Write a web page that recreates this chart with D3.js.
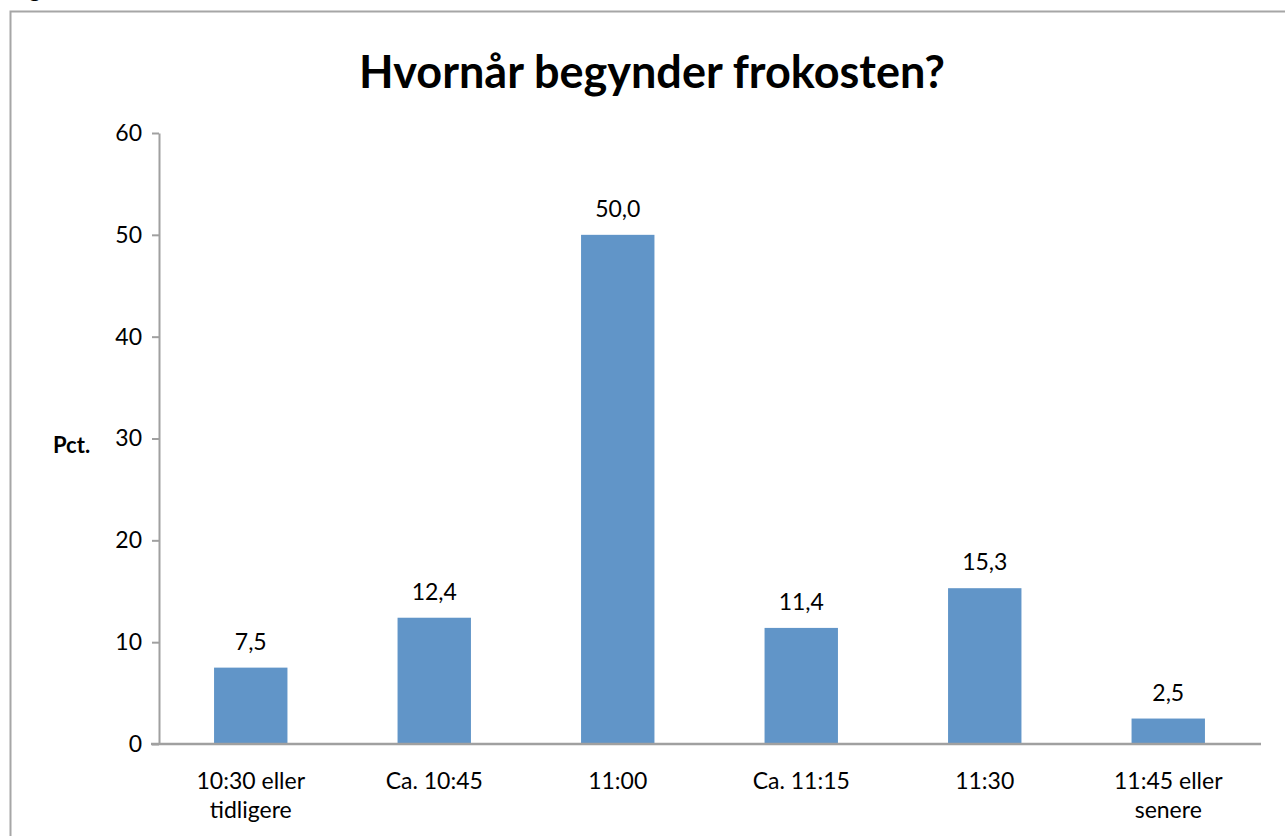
<!DOCTYPE html>
<html>
<head>
<meta charset="utf-8">
<script src="https://cdn.jsdelivr.net/npm/d3@7"></script>
<style>
  body { margin: 0; background: #fff; }
  svg text { font-family: Lato, "Open Sans", sans-serif; fill: #000; }
</style>
</head>
<body>
<div id="chart"></div>
<script>
var categories = [["10:30 eller", "tidligere"], ["Ca. 10:45"], ["11:00"], ["Ca. 11:15"], ["11:30"], ["11:45 eller", "senere"]];
var values = [7.5, 12.4, 50.0, 11.4, 15.3, 2.5];
var yTicks = [0, 10, 20, 30, 40, 50, 60];

var width = 1285, height = 836;
var plotLeft = 159, plotRight = 1260, plotTop = 133, plotBottom = 744;

var svg = d3.select("#chart")
    .append("svg")
    .attr("width", width)
    .attr("height", height);

// outer frame
svg.append("rect")
    .attr("x", 10.5).attr("y", 11.5)
    .attr("width", 1290).attr("height", 840)
    .attr("fill", "none")
    .attr("stroke", "#a6a6a6")
    .attr("stroke-width", 2);

// cut-off caption glyph above the frame
svg.append("text")
    .attr("x", 29).attr("y", -3)
    .attr("font-size", 22)
    .text("g");

svg.append("text")
    .attr("x", 652).attr("y", 88)
    .attr("text-anchor", "middle")
    .attr("font-size", 45)
    .attr("font-weight", "bold")
    .text("Hvornår begynder frokosten?");

var x = d3.scaleBand()
    .range([plotLeft, plotRight])
    .paddingInner(0.6)
    .paddingOuter(0.3)
    .domain(d3.range(values.length));

var y = d3.scaleLinear()
    .range([plotBottom, plotTop])
    .domain([0, 60]);

// y axis
var yAxis = svg.append("g")
    .attr("transform", "translate(" + plotLeft + ",0)")
    .call(d3.axisLeft(y).tickValues(yTicks).tickSize(7).tickPadding(10).tickSizeOuter(0));
yAxis.select(".domain").attr("stroke", "#a0a0a0").attr("stroke-width", 2);
yAxis.selectAll(".tick line").attr("stroke", "#a0a0a0").attr("stroke-width", 2);
yAxis.selectAll(".tick text")
    .attr("font-size", 23)
    .attr("font-family", "Lato, 'Open Sans', sans-serif")
    .attr("fill", "#000");

svg.append("text")
    .attr("x", 53).attr("y", 453)
    .attr("font-size", 22)
    .attr("font-weight", "bold")
    .text("Pct.");

// bars
svg.selectAll(".bar")
    .data(values)
    .enter().append("rect")
    .attr("class", "bar")
    .attr("fill", "#6195c8")
    .attr("x", function(d, i) { return x(i); })
    .attr("y", function(d) { return y(d); })
    .attr("width", x.bandwidth())
    .attr("height", function(d) { return plotBottom - y(d); });

svg.selectAll(".barvalues")
    .data(values)
    .enter().append("text")
    .attr("class", "barvalues")
    .attr("x", function(d, i) { return x(i) + x.bandwidth() / 2; })
    .attr("y", function(d) { return y(d) - 18; })
    .attr("text-anchor", "middle")
    .attr("font-size", 23)
    .text(function(d) { return d.toFixed(1).replace(".", ","); });

// x axis line
svg.append("line")
    .attr("x1", 151).attr("x2", 1261)
    .attr("y1", plotBottom).attr("y2", plotBottom)
    .attr("stroke", "#a0a0a0")
    .attr("stroke-width", 2.5);

// category labels
var labels = svg.selectAll(".xlabel")
    .data(categories)
    .enter().append("text")
    .attr("class", "xlabel")
    .attr("text-anchor", "middle")
    .attr("font-size", 23)
    .attr("x", function(d, i) { return x(i) + x.bandwidth() / 2; })
    .attr("y", 789);
labels.selectAll("tspan")
    .data(function(d) { return d; })
    .enter().append("tspan")
    .attr("x", function() { return d3.select(this.parentNode).attr("x"); })
    .attr("dy", function(d, i) { return i === 0 ? 0 : 29; })
    .text(function(d) { return d; });
</script>
</body>
</html>
